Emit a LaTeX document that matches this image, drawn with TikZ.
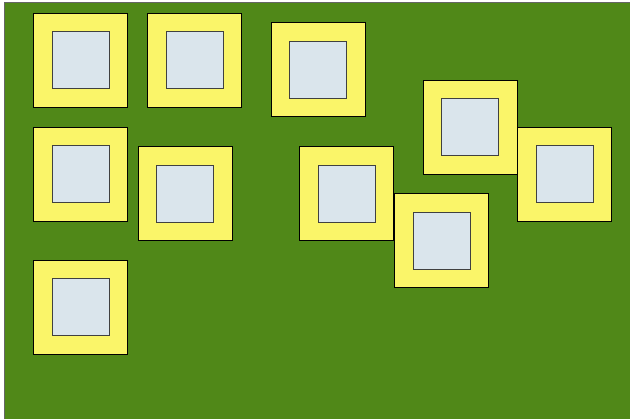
\documentclass[tikz,border=0pt]{standalone}
\usepackage{xcolor}
\usepackage{tikz}
\usetikzlibrary{positioning, calc}

\definecolor{boardgreen}{RGB}{80,136,24}
\definecolor{padyellow}{RGB}{250,245,105}
\definecolor{holegray}{RGB}{218,229,236}

\tikzset{
    pad/.style={draw=black, line width=0.9pt, fill=padyellow, minimum size=94pt, inner sep=0pt},
    hole/.style={draw=black!75, line width=0.9pt, fill=holegray, minimum size=57pt, inner sep=0pt}
}

\begin{document}
\begin{tikzpicture}[x=1pt, y=-1pt]
    \useasboundingbox (0,0) rectangle (630,419);
    % board
    \fill[boardgreen] (4,3) rectangle (630,419);
    \draw[black!60, line width=1pt] (4,419) -- (4,3) -- (630,3);
    % pads
    \foreach \cx/\cy/\name in {80.5/60/a, 194.5/60/b, 318/69.5/c, 470/127/d, 564.5/174/e,
                               441.5/240.5/f, 80.5/174/g, 185/193.5/h, 346.5/193.5/i, 80.5/307/j} {
        \node[pad] (pad\name) at (\cx, \cy) {};
        \node[hole] (hole\name) at (pad\name.center) {};
    }
\end{tikzpicture}
\end{document}
